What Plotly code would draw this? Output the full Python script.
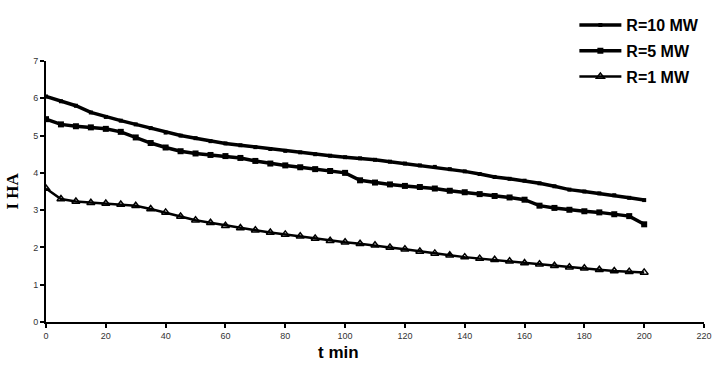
import plotly.graph_objects as go

t = [0, 5, 10, 15, 20, 25, 30, 35, 40, 45, 50, 55, 60, 65, 70, 75, 80, 85, 90, 95, 100,
     105, 110, 115, 120, 125, 130, 135, 140, 145, 150, 155, 160, 165, 170, 175, 180,
     185, 190, 195, 200]

r10 = [6.05, 5.92, 5.80, 5.62, 5.50, 5.40, 5.30, 5.20, 5.08, 5.00, 4.93, 4.85, 4.79,
       4.74, 4.69, 4.64, 4.59, 4.55, 4.50, 4.46, 4.42, 4.39, 4.35, 4.30, 4.25, 4.20,
       4.16, 4.10, 4.04, 3.97, 3.89, 3.84, 3.79, 3.72, 3.64, 3.55, 3.50, 3.45, 3.40,
       3.33, 3.27]

r5 = [5.44, 5.30, 5.25, 5.22, 5.18, 5.10, 4.95, 4.80, 4.68, 4.58, 4.52, 4.48, 4.45,
      4.40, 4.32, 4.25, 4.20, 4.15, 4.10, 4.05, 4.00, 3.80, 3.74, 3.69, 3.65, 3.62,
      3.58, 3.52, 3.48, 3.43, 3.38, 3.34, 3.28, 3.12, 3.06, 3.01, 2.97, 2.94, 2.89,
      2.84, 2.62]

r1 = [3.58, 3.30, 3.23, 3.20, 3.18, 3.15, 3.12, 3.03, 2.94, 2.83, 2.73, 2.66, 2.58,
      2.52, 2.46, 2.40, 2.35, 2.30, 2.24, 2.18, 2.14, 2.10, 2.06, 2.00, 1.95, 1.89,
      1.84, 1.79, 1.74, 1.70, 1.67, 1.63, 1.58, 1.55, 1.51, 1.47, 1.44, 1.40, 1.37,
      1.35, 1.33]

names = ["R=10 MW", "R=5 MW", "R=1 MW"]
x_ticks = list(range(0, 221, 20))
y_ticks = list(range(0, 8))

fig = go.Figure()
fig.add_trace(go.Scatter(x=t, y=r10, name=names[0], mode="lines+markers",
                         legendgroup="a",
                         line=dict(color="black", width=3.5),
                         marker=dict(symbol="square", size=4, color="black")))
fig.add_trace(go.Scatter(x=t, y=r5, name=names[1], mode="lines+markers",
                         legendgroup="b",
                         line=dict(color="black", width=3.5),
                         marker=dict(symbol="square", size=6, color="black")))
fig.add_trace(go.Scatter(x=t, y=r1, name=names[2], mode="lines+markers",
                         legendgroup="c",
                         line=dict(color="black", width=2.5),
                         marker=dict(symbol="triangle-up-open", size=7, color="black",
                                     line=dict(width=1.5))))

axis_common = dict(showgrid=False, zeroline=False, showline=True, linecolor="black",
                   linewidth=2, ticks="outside", ticklen=4, tickwidth=1.5,
                   tickcolor="black",
                   tickfont=dict(family="Liberation Sans", size=9, color="#333"))

fig.update_xaxes(range=[0, 220], tickvals=x_ticks, **axis_common)
fig.update_yaxes(range=[0, 7], tickvals=y_ticks, **axis_common)

fig.update_layout(
    width=722, height=380,
    margin=dict(l=46, r=18, t=61, b=58, autoexpand=False),
    plot_bgcolor="white", paper_bgcolor="white",
    legend=dict(x=0.803, y=1.203, xanchor="left", yanchor="top",
                tracegroupgap=2, itemwidth=42,
                font=dict(family="Liberation Sans", size=16, color="black", weight="bold"),
                bgcolor="rgba(0,0,0,0)"),
    annotations=[
        dict(text="t min", x=(338 - 46) / 658, y=-0.115, xref="paper", yref="paper",
             xanchor="center", yanchor="middle", showarrow=False,
             font=dict(family="Liberation Sans", size=17, color="black", weight="bold")),
        dict(text="I HA", x=-34 / 658, y=0.5, xref="paper", yref="paper",
             xanchor="center", yanchor="middle", showarrow=False, textangle=-90,
             font=dict(family="Liberation Serif", size=17, color="black", weight="bold")),
    ],
)

fig.write_html("out.html")
